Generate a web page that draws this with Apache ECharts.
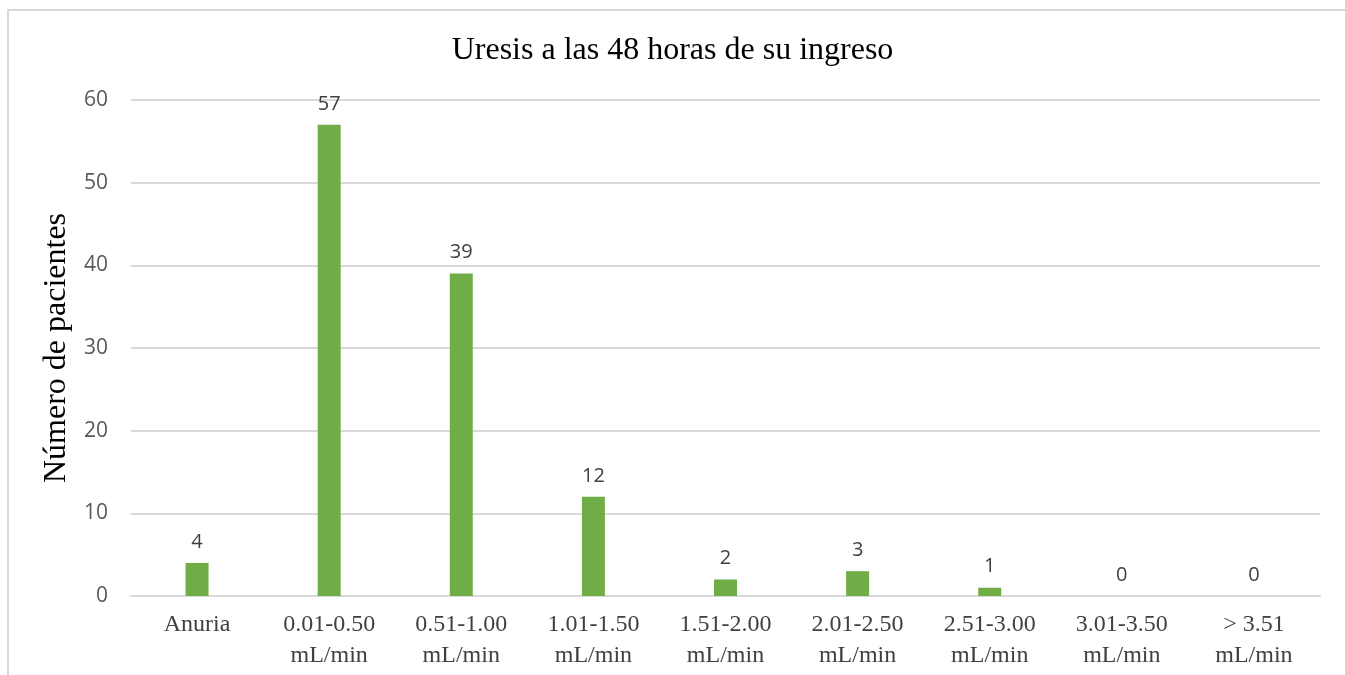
<!DOCTYPE html>
<html>
<head>
<meta charset="utf-8">
<script src="https://cdn.jsdelivr.net/npm/echarts@6/dist/echarts.min.js"></script>
<style>
	html, body { margin: 0; padding: 0; background: #fff; }
	#chart { width: 1345px; height: 675px; }
</style>
</head>
<body>
<div id="chart"></div>
<script>
	/*数据*/
	var categories = ["Anuria", "0.01-0.50\nmL/min", "0.51-1.00\nmL/min", "1.01-1.50\nmL/min", "1.51-2.00\nmL/min",
		"2.01-2.50\nmL/min", "2.51-3.00\nmL/min", "3.01-3.50\nmL/min", "> 3.51\nmL/min"];
	var pacientes = [4, 57, 39, 12, 2, 3, 1, 0, 0];
	var yTicks = [0, 10, 20, 30, 40, 50, 60];

	var chart = echarts.init(document.getElementById('chart'));
	var option = {
		backgroundColor: '#fff',
		animation: false,
		title: {
			text: 'Uresis a las 48 horas de su ingreso',
			left: 'center',
			top: 30,
			textStyle: {
				fontFamily: 'Liberation Serif',
				fontWeight: 'normal',
				fontSize: 32,
				color: '#000'
			}
		},
		graphic: [{
			type: 'rect',
			shape: { x: 8, y: 10, width: 1400, height: 700 },
			style: { fill: 'none', stroke: '#d9d9d9', lineWidth: 2 },
			silent: true
		}],
		grid: {
			left: 131,
			right: 25,
			top: 100,
			bottom: 79
		},
		xAxis: {
			type: 'category',
			data: categories,
			axisTick: { show: false },
			axisLine: { lineStyle: { color: '#d9d9d9', width: 2 } },
			axisLabel: {
				interval: 0,
				margin: 13,
				fontFamily: 'Liberation Serif',
				fontSize: 24,
				lineHeight: 31,
				color: '#404040'
			}
		},
		yAxis: {
			type: 'value',
			min: yTicks[0],
			max: yTicks[yTicks.length - 1],
			interval: 10,
			name: 'Número de pacientes',
			nameLocation: 'middle',
			nameGap: 56,
			nameTextStyle: {
				fontFamily: 'Liberation Serif',
				fontSize: 32,
				color: '#000'
			},
			axisLine: { show: false },
			axisTick: { show: false },
			splitLine: { lineStyle: { color: '#d9d9d9', width: 2 } },
			axisLabel: {
				margin: 23,
				fontFamily: 'Open Sans',
				fontSize: 21,
				color: '#595959'
			}
		},
		series: [{
			type: 'bar',
			data: pacientes,
			barWidth: 23,
			itemStyle: { color: '#70AD47' },
			label: {
				show: true,
				position: 'top',
				distance: 11,
				fontFamily: 'Open Sans',
				fontSize: 20,
				color: '#404040'
			}
		}]
	};
	chart.setOption(option);
</script>
</body>
</html>
